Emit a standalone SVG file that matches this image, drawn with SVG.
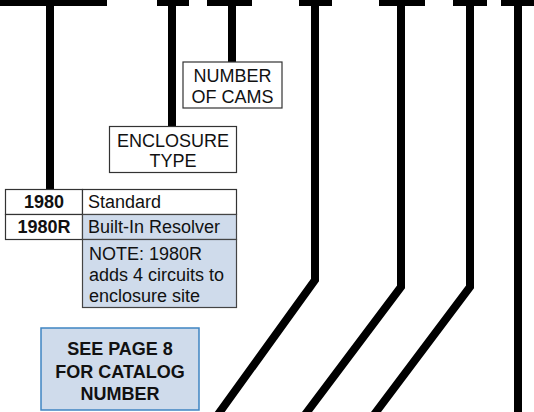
<svg xmlns="http://www.w3.org/2000/svg" width="534" height="412" viewBox="0 0 534 412">
<style>
.bar{fill:#000}
.ln{fill:none;stroke:#000;stroke-width:8;stroke-linejoin:miter}
.box{fill:#fff;stroke:#333;stroke-width:1.2}
.blue{fill:#cfdbeb;stroke:#444;stroke-width:1.2}
.see{fill:#cfdbeb;stroke:#3f85c2;stroke-width:1.5}
text{font-family:"Liberation Sans",Arial,sans-serif;font-size:18px;fill:#111}
.b{font-weight:bold}
.c{text-anchor:middle}
</style>
<rect width="534" height="412" fill="#fff"/>
<g id="connectors">
<rect class="bar" x="0" y="0" width="107" height="6"/>
<rect class="bar" x="157" y="0" width="32" height="6"/>
<rect class="bar" x="207" y="0" width="45" height="6"/>
<rect class="bar" x="299" y="0" width="33" height="6"/>
<rect class="bar" x="379" y="0" width="46" height="6"/>
<rect class="bar" x="453" y="0" width="34" height="6"/>
<rect class="bar" x="501" y="0" width="33" height="6"/>
<path class="ln" d="M50,0 V189"/>
<path class="ln" d="M172,0 V126"/>
<path class="ln" d="M232,0 V62"/>
<path class="ln" d="M315,0 V280 L214,420"/>
<path class="ln" d="M401,0 V287 L301,420"/>
<path class="ln" d="M470,0 V287 L370,420"/>
<path class="ln" d="M518,0 V420"/>
</g>
<g id="cams">
<rect class="box" x="183" y="62" width="99" height="46"/>
<text class="c" x="232.5" y="82">NUMBER</text>
<text class="c" x="232.5" y="103">OF CAMS</text>
</g>
<g id="enclosure">
<rect class="box" x="109.5" y="126.5" width="127" height="46"/>
<text class="c" x="173" y="147">ENCLOSURE</text>
<text class="c" x="173" y="167">TYPE</text>
</g>
<g id="table">
<rect class="box" x="5.5" y="189.5" width="77" height="25"/>
<rect class="box" x="82.5" y="189.5" width="154" height="25"/>
<rect class="box" x="5.5" y="214.5" width="77" height="25"/>
<rect class="blue" x="82.5" y="214.5" width="154" height="25"/>
<text class="b c" x="44" y="208">1980</text>
<text x="88" y="208">Standard</text>
<text class="b c" x="44" y="233">1980R</text>
<text x="88" y="233">Built-In Resolver</text>
</g>
<g id="note">
<rect class="blue" x="82.5" y="239.5" width="154" height="68"/>
<text x="89" y="260">NOTE: 1980R</text>
<text x="89" y="281">adds 4 circuits to</text>
<text x="89" y="302">enclosure site</text>
</g>
<g id="see-page">
<rect class="see" x="41" y="328" width="158" height="82"/>
<text class="b c" x="120" y="355">SEE PAGE 8</text>
<text class="b c" x="120" y="378">FOR CATALOG</text>
<text class="b c" x="120" y="400">NUMBER</text>
</g>
</svg>
